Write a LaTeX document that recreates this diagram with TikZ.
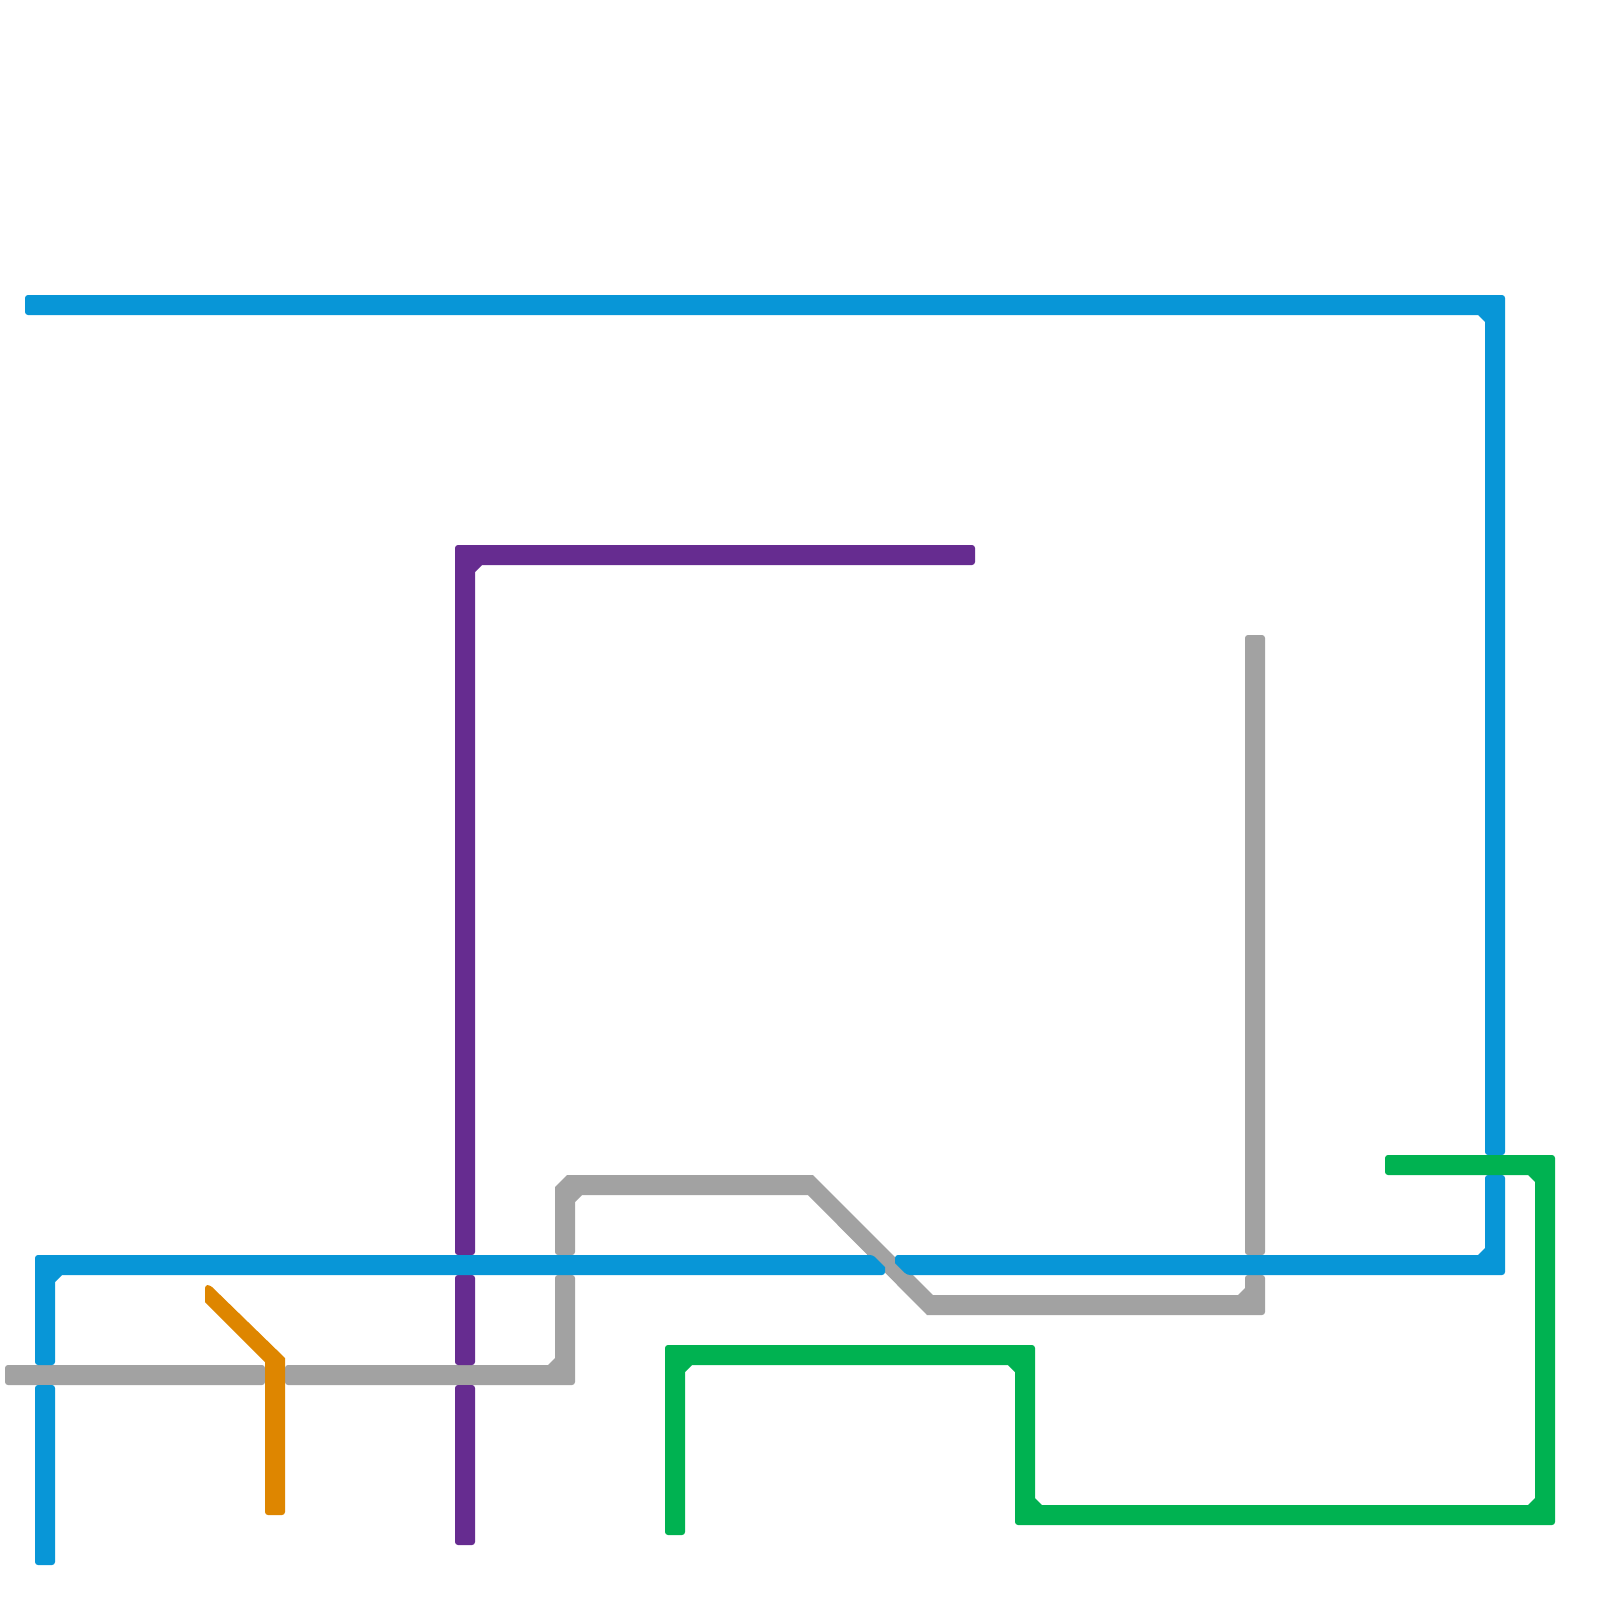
\documentclass[tikz,border=0pt]{standalone}
\definecolor{lineblue}{HTML}{0896D7}
\definecolor{linepurple}{HTML}{662C90}
\definecolor{linegray}{HTML}{A2A2A2}
\definecolor{lineorange}{HTML}{DE8600}
\definecolor{linegreen}{HTML}{00B251}
\tikzset{
  sc/.style={sharp corners},
  rc/.style={rounded corners=1.5pt},
  seg/.style={rc,draw=none},
  blueseg/.style={seg,fill=lineblue},
  purpleseg/.style={seg,fill=linepurple},
  grayseg/.style={seg,fill=linegray},
  orangeseg/.style={seg,fill=lineorange},
  greenseg/.style={seg,fill=linegreen}
}
\begin{document}
\begin{tikzpicture}[x=0.5pt,y=-0.5pt]
\useasboundingbox (0,0) rectangle (1600,1600);
\fill[white] (0,0) rectangle (1600,1600);
% gray
\path[grayseg] (5,1365) -- (265,1365) -- (265,1385) -- (5,1385) -- cycle;
\path[grayseg] (555,1275) -- (575,1275) -- (575,1385) -- (285,1385) -- (285,1365) [sc] -- (548,1365) -- (555,1358) [rc] -- cycle;
\path[grayseg] (555,1255) [sc] -- (555,1187) -- (567,1175) -- (813,1175) -- (933,1295) -- (1238,1295) -- (1245,1288) [rc] -- (1245,1275) -- (1265,1275) -- (1265,1315) [sc] -- (927,1315) -- (808,1195) -- (582,1195) -- (575,1202) [rc] -- (575,1255) -- cycle;
\path[grayseg] (1245,635) -- (1265,635) -- (1265,1255) -- (1245,1255) -- cycle;
% purple
\path[purpleseg] (455,545) -- (975,545) -- (975,565) [sc] -- (482,565) -- (475,572) [rc] -- (475,1255) -- (455,1255) -- cycle;
\path[purpleseg] (455,1275) -- (475,1275) -- (475,1365) -- (455,1365) -- cycle;
\path[purpleseg] (455,1385) -- (475,1385) -- (475,1545) -- (455,1545) -- cycle;
% blue
\path[blueseg] (25,295) -- (1505,295) -- (1505,1155) -- (1485,1155) [sc] -- (1485,322) -- (1478,315) [rc] -- (25,315) -- cycle;
\path[blueseg] (1485,1175) -- (1505,1175) -- (1505,1275) -- (907,1275) [sc] -- (895,1263) [rc] -- (895,1255) [sc] -- (1478,1255) -- (1485,1248) [rc] -- cycle;
\path[blueseg] (35,1255) -- (873,1255) [sc] -- (885,1267) [rc] -- (885,1275) [sc] -- (62,1275) -- (55,1282) [rc] -- (55,1365) -- (35,1365) -- cycle;
\path[blueseg] (35,1385) -- (55,1385) -- (55,1565) -- (35,1565) -- cycle;
% orange
\path[orangeseg] (205,1285) -- (210,1285) [sc] -- (285,1358) [rc] -- (285,1515) -- (265,1515) [sc] -- (265,1362) -- (205,1302) [rc] -- cycle;
% green
\path[greenseg] (665,1345) -- (1035,1345) [sc] -- (1035,1498) -- (1042,1505) -- (1528,1505) -- (1535,1498) -- (1535,1182) -- (1528,1175) [rc] -- (1385,1175) -- (1385,1155) -- (1555,1155) -- (1555,1525) -- (1015,1525) [sc] -- (1015,1372) -- (1008,1365) -- (692,1365) -- (685,1372) [rc] -- (685,1535) -- (665,1535) -- cycle;
\end{tikzpicture}
\end{document}
